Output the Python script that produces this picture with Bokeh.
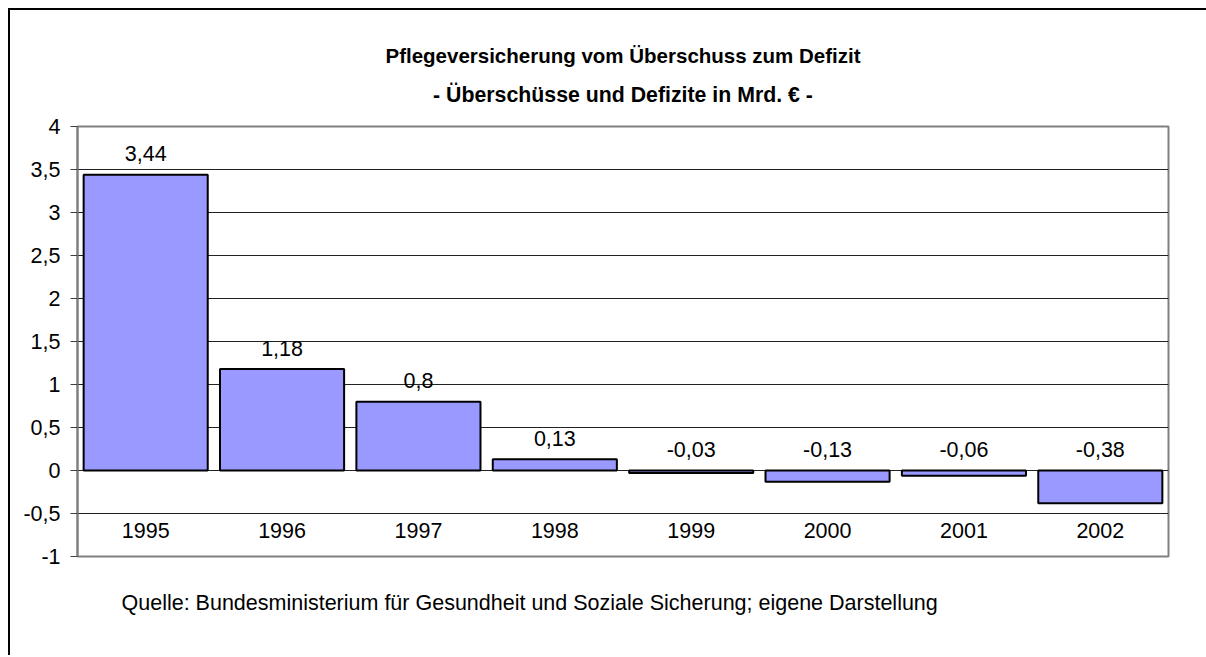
from bokeh.plotting import figure
from bokeh.layouts import column
from bokeh.models import FactorRange, Range1d, FixedTicker, CustomJSTickFormatter, Title, ColumnDataSource
from bokeh.core.properties import value
from bokeh.embed import file_html
from bokeh.resources import INLINE
import numpy as np

# ---- data ----
years = ["1995", "1996", "1997", "1998", "1999", "2000", "2001", "2002"]
saldo = [3.44, 1.18, 0.80, 0.13, -0.03, -0.13, -0.06, -0.38]
saldo_labels = ["3,44", "1,18", "0,8", "0,13", "-0,03", "-0,13", "-0,06", "-0,38"]
y_ticks = [-1, -0.5, 0, 0.5, 1, 1.5, 2, 2.5, 3, 3.5, 4]
title_text = "Pflegeversicherung vom Überschuss zum Defizit"
subtitle_text = "- Überschüsse und Defizite in Mrd. € -"
source_text = "Quelle: Bundesministerium für Gesundheit und Soziale Sicherung; eigene Darstellung"

FONT = "Liberation Sans"
NORMAL = "21.5px"

src = ColumnDataSource(dict(
    x=years,
    top=saldo,
    lab=saldo_labels,
    laby=list(np.maximum(np.array(saldo), 0.0)),
    caty=[-0.7] * len(years),
))

p = figure(
    x_range=FactorRange(factors=years),
    y_range=Range1d(-1, 4),
    width=1196, height=645,
    output_backend="svg", toolbar_location=None,
    min_border_left=67, min_border_right=38,
    min_border_top=116, min_border_bottom=99,
)

# white spacer between frame and subtitle
p.add_layout(Title(text=".", align="center", text_font=FONT, text_font_size="8px",
                   text_color="white", standoff=13), "above")
p.add_layout(Title(text=subtitle_text, align="center", text_font=FONT,
                   text_font_size="21.3px", text_font_style="bold", text_color="black",
                   standoff=0), "above")
p.add_layout(Title(text=title_text, align="center", text_font=FONT,
                   text_font_size="20.5px", text_font_style="bold", text_color="black",
                   standoff=28), "above")
p.add_layout(Title(text=source_text, align="left", offset=44, text_font=FONT,
                   text_font_size=NORMAL, text_font_style="normal", text_color="black",
                   standoff=64), "below")

p.vbar(x="x", top="top", bottom=0, width=0.91, source=src,
       fill_color="#9999FF", line_color="black", line_width=2)

p.text(x="x", y="laby", text="lab", source=src, text_align="center",
       text_baseline="middle", y_offset=-21, text_font=value(FONT),
       text_font_size=NORMAL, text_color="black")
p.text(x="x", y="caty", text="x", source=src, text_align="center",
       text_baseline="middle", text_font=value(FONT),
       text_font_size=NORMAL, text_color="black")

p.xaxis.visible = False
p.xgrid.visible = False

yax = p.yaxis[0]
yax.ticker = FixedTicker(ticks=y_ticks)
yax.formatter = CustomJSTickFormatter(code="return tick.toString().replace('.', ',');")
yax.axis_line_color = "#808080"
yax.axis_line_width = 2
yax.major_tick_line_color = "#404040"
yax.major_tick_line_width = 1
yax.major_tick_out = 7
yax.major_tick_in = 0
yax.minor_tick_line_color = None
yax.major_label_standoff = 10
yax.major_label_text_font = FONT
yax.major_label_text_font_size = NORMAL
yax.major_label_text_color = "black"

p.ygrid.ticker = FixedTicker(ticks=[t for t in y_ticks if -1 < t < 4])
p.ygrid.grid_line_color = "#222222"
p.ygrid.grid_line_width = 1

p.outline_line_color = "#808080"
p.outline_line_width = 2
p.background_fill_color = "white"
p.border_fill_color = "white"

layout = column(p, styles={"margin-left": "8px", "margin-top": "8px",
                           "border-top": "2px solid black",
                           "border-left": "2px solid black",
                           "overflow": "hidden"})

open("out.html", "w").write(file_html(layout, INLINE))
